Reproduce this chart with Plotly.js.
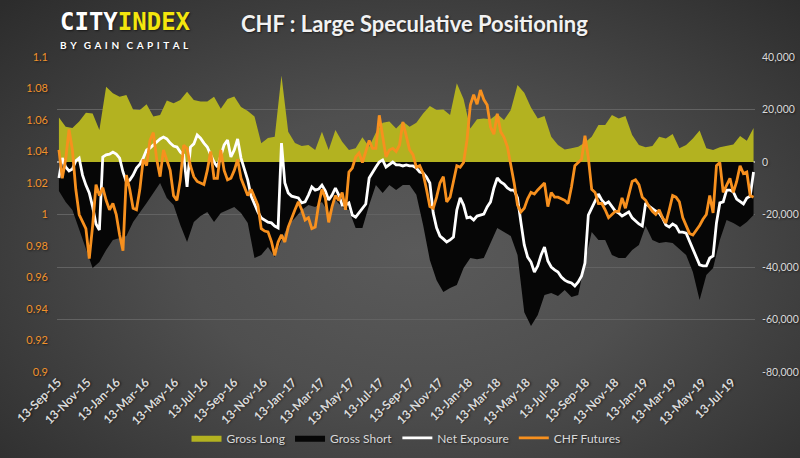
<!DOCTYPE html>
<html>
<head>
<meta charset="utf-8">
<script src="https://cdn.plot.ly/plotly-3.0.1.min.js"></script>
<style>
  html, body { margin: 0; padding: 0; background: #2a2a2a; }
  #chart {
    width: 800px; height: 458px;
    background: radial-gradient(ellipse 72% 78% at 52% 55%, #5a5a5a 0%, #4f4f4f 40%, #2c2c2c 100%);
  }
  .main-svg text { text-shadow: 1px 1px 2px rgba(0,0,0,0.55); }
</style>
</head>
<body>
<div id="chart"></div>
<script>
// Weekly report dates (Tuesdays), Sep 2015 - Aug 2019
const datesWeekly = [
 '2015-09-15','2015-09-22','2015-09-29','2015-10-06','2015-10-13','2015-10-20','2015-10-27','2015-11-03',
 '2015-11-10','2015-11-17','2015-11-24','2015-12-01','2015-12-08','2015-12-15','2015-12-22','2015-12-29',
 '2016-01-05','2016-01-12','2016-01-19','2016-01-26','2016-02-02','2016-02-09','2016-02-16','2016-02-23',
 '2016-03-01','2016-03-08','2016-03-15','2016-03-22','2016-03-29','2016-04-05','2016-04-12','2016-04-19',
 '2016-04-26','2016-05-03','2016-05-10','2016-05-17','2016-05-24','2016-05-31','2016-06-07','2016-06-14',
 '2016-06-21','2016-06-28','2016-07-05','2016-07-12','2016-07-19','2016-07-26','2016-08-02','2016-08-09',
 '2016-08-16','2016-08-23','2016-08-30','2016-09-06','2016-09-13','2016-09-20','2016-09-27','2016-10-04',
 '2016-10-11','2016-10-18','2016-10-25','2016-11-01','2016-11-08','2016-11-15','2016-11-22','2016-11-29',
 '2016-12-06','2016-12-13','2016-12-20','2016-12-27',
 '2017-01-03','2017-01-10','2017-01-17','2017-01-24','2017-01-31','2017-02-07','2017-02-14','2017-02-21',
 '2017-02-28','2017-03-07','2017-03-14','2017-03-21','2017-03-28','2017-04-04','2017-04-11','2017-04-18',
 '2017-04-25','2017-05-02','2017-05-09','2017-05-16','2017-05-23','2017-05-30','2017-06-06','2017-06-13',
 '2017-06-20','2017-06-27','2017-07-04','2017-07-11','2017-07-18','2017-07-25','2017-08-01','2017-08-08',
 '2017-08-15','2017-08-22','2017-08-29','2017-09-05','2017-09-12','2017-09-19','2017-09-26','2017-10-03',
 '2017-10-10','2017-10-17','2017-10-24','2017-10-31','2017-11-07','2017-11-14','2017-11-21','2017-11-28',
 '2017-12-05','2017-12-12','2017-12-19','2017-12-26',
 '2018-01-02','2018-01-09','2018-01-16','2018-01-23','2018-01-30','2018-02-06','2018-02-13','2018-02-20',
 '2018-02-27','2018-03-06','2018-03-13','2018-03-20','2018-03-27','2018-04-03','2018-04-10','2018-04-17',
 '2018-04-24','2018-05-01','2018-05-08','2018-05-15','2018-05-22','2018-05-29','2018-06-05','2018-06-12',
 '2018-06-19','2018-06-26','2018-07-03','2018-07-10','2018-07-17','2018-07-24','2018-07-31','2018-08-07',
 '2018-08-14','2018-08-21','2018-08-28','2018-09-04','2018-09-11','2018-09-18','2018-09-25','2018-10-02',
 '2018-10-09','2018-10-16','2018-10-23','2018-10-30','2018-11-06','2018-11-13','2018-11-20','2018-11-27',
 '2018-12-04','2018-12-11','2018-12-18','2018-12-25',
 '2019-01-01','2019-01-08','2019-01-15','2019-01-22','2019-01-29','2019-02-05','2019-02-12','2019-02-19',
 '2019-02-26','2019-03-05','2019-03-12','2019-03-19','2019-03-26','2019-04-02','2019-04-09','2019-04-16',
 '2019-04-23','2019-04-30','2019-05-07','2019-05-14','2019-05-21','2019-05-28','2019-06-04','2019-06-11',
 '2019-06-18','2019-06-25','2019-07-02','2019-07-09','2019-07-16','2019-07-23','2019-07-30','2019-08-06',
 '2019-08-13','2019-08-20','2019-08-27'
];

// Every second report date, used for the gross position areas
const datesBiweekly = [
 '2015-09-15','2015-09-29','2015-10-13','2015-10-27','2015-11-10','2015-11-24','2015-12-08','2015-12-22',
 '2016-01-05','2016-01-19','2016-02-02','2016-02-16','2016-03-01','2016-03-15','2016-03-29','2016-04-12',
 '2016-04-26','2016-05-10','2016-05-24','2016-06-07','2016-06-21','2016-07-05','2016-07-19','2016-08-02',
 '2016-08-16','2016-08-30','2016-09-13','2016-09-27','2016-10-11','2016-10-25','2016-11-08','2016-11-22',
 '2016-12-06','2016-12-20','2017-01-03','2017-01-17','2017-01-31','2017-02-14','2017-02-28','2017-03-14',
 '2017-03-28','2017-04-11','2017-04-25','2017-05-09','2017-05-23','2017-06-06','2017-06-20','2017-07-04',
 '2017-07-18','2017-08-01','2017-08-15','2017-08-29','2017-09-12','2017-09-26','2017-10-10','2017-10-24',
 '2017-11-07','2017-11-21','2017-12-05','2017-12-19','2018-01-02','2018-01-16','2018-01-30','2018-02-13',
 '2018-02-27','2018-03-13','2018-03-27','2018-04-10','2018-04-24','2018-05-08','2018-05-22','2018-06-05',
 '2018-06-19','2018-07-03','2018-07-17','2018-07-31','2018-08-14','2018-08-28','2018-09-11','2018-09-25',
 '2018-10-09','2018-10-23','2018-11-06','2018-11-20','2018-12-04','2018-12-18','2019-01-01','2019-01-15',
 '2019-01-29','2019-02-12','2019-02-26','2019-03-12','2019-03-26','2019-04-09','2019-04-23','2019-05-07',
 '2019-05-21','2019-06-04','2019-06-18','2019-07-02','2019-07-16','2019-07-30','2019-08-13','2019-08-27'
];

const grossLong = [
 17000,13400,13000,15400,18800,18500,12200,28700,
 26200,24900,25500,20000,19800,22000,17300,17900,
 23400,22400,23600,26800,23600,23000,23000,24900,
 20300,24000,25000,21000,19400,17300,7100,9100,
 9600,33000,11500,7200,6100,6500,4600,11500,
 4600,12200,7700,4600,5200,9400,5800,11200,
 15000,15400,12800,15400,13400,15000,18500,21300,
 19800,20000,17900,30000,24000,12800,16300,16600,
 16300,18300,16000,19800,29300,26400,20800,16600,
 17500,9600,6500,4800,5200,5800,7400,9600,
 14100,14100,17900,16600,17500,10300,6500,5600,
 6100,9600,9000,10700,5200,6500,9000,12000,
 5200,4600,5600,6100,6700,9900,8100,13000
];

const grossShort = [
 -11000,-15200,-18300,-25900,-33500,-40400,-38100,-33500,
 -29700,-29000,-28200,-22900,-19400,-15600,-11800,-8000,
 -13700,-16400,-24000,-30500,-22900,-20600,-19000,-22900,
 -19400,-18300,-17100,-19400,-23200,-36600,-35400,-32400,
 -36200,-29700,-24000,-21300,-18300,-16400,-17100,-15200,
 -19400,-14500,-17100,-18300,-25100,-25100,-16400,-8800,
 -11800,-8800,-10700,-8800,-8800,-12500,-24000,-37300,
 -45000,-49500,-48000,-46900,-40400,-36600,-37000,-36600,
 -30500,-25100,-26700,-28200,-35400,-57200,-62500,-58300,
 -50700,-49900,-51000,-48800,-51400,-50700,-38100,-26700,
 -29700,-29700,-35400,-36600,-36600,-33500,-31600,-24400,
 -29700,-30900,-30500,-30900,-33100,-35400,-41900,-52600,
 -43000,-40400,-29700,-22100,-23200,-24800,-22900,-20200
];

const netExposure = [
 -6100,1500,-1900,-3400,-2700,400,1500,-5000,-8800,-11800,
 -17100,-23600,-25900,1900,2700,3000,3800,3000,1500,-3800,
 -7600,-6900,-5000,-2300,-800,1500,4600,5300,6500,7600,
 8800,9500,8800,7200,6100,5700,3800,2700,-9500,5700,
 6900,10300,9100,7200,5700,2700,0,-1900,1900,6500,
 8400,1900,4600,8800,1500,-3000,-6900,-13000,-16400,-19000,
 -21300,-22100,-22900,-23200,-24400,-25100,7200,-8000,-11800,-13000,
 -13300,-13700,-15600,-15200,-12600,-9500,-10700,-10300,-8800,-11000,
 -14500,-12600,-9900,-12600,-16400,-16400,-15600,-20200,-21000,-19400,
 -17900,-16000,-6100,-3800,-1900,0,800,-1900,-1100,0,
 -1100,-1100,-1500,-1100,-1500,-1500,-2300,-3800,-4200,-5700,
 -8000,-19400,-25100,-28200,-29300,-30500,-29700,-28600,-18300,-13700,
 -16400,-21300,-21000,-22100,-20600,-20200,-19800,-17100,-15200,-9900,
 -6100,-7600,-8400,-9900,-10700,-10700,-13700,-22900,-31600,-36200,
 -38100,-41900,-39600,-35400,-32400,-37700,-40000,-41100,-41900,-43800,
 -45000,-45700,-46100,-47200,-45700,-43400,-38500,-20200,-17500,-15200,
 -12200,-14500,-16000,-15200,-17100,-18700,-19400,-20600,-19800,-19000,
 -21300,-22500,-23600,-24400,-15600,-16800,-17900,-18700,-19400,-21300,
 -24000,-24800,-23600,-24400,-26700,-26700,-27100,-30100,-33500,-36600,
 -39200,-39600,-39600,-36600,-35800,-23200,-15600,-15200,-10700,-10700,
 -11400,-14100,-15200,-16000,-13700,-13000,-3800
];

const chfFutures = [
 1.041,1.023,1.035,1.054,1.041,1.016,1.000,0.995,0.991,0.972,
 0.993,1.019,1.012,1.017,1.009,1.003,1.007,1.000,0.987,0.977,
 1.025,1.016,1.004,1.003,1.016,1.035,1.031,1.047,1.052,1.035,
 1.024,1.041,1.035,1.028,1.012,1.009,1.022,1.044,1.042,1.031,
 1.024,1.021,1.020,1.019,1.028,1.040,1.023,1.023,1.041,1.028,
 1.022,1.023,1.028,1.035,1.023,1.0175,1.012,1.016,1.011,1.006,
 0.991,0.9895,0.989,0.983,0.974,0.9825,0.987,0.9825,0.992,0.998,
 1.003,1.008,1.003,0.9965,0.998,0.991,0.992,1.006,1.016,1.0105,
 0.995,1.005,1.012,1.009,1.014,1.003,1.027,1.0295,1.0365,1.039,
 1.033,1.040,1.047,1.042,1.042,1.063,1.0505,1.0365,1.041,1.042,
 1.040,1.044,1.0587,1.050,1.041,1.038,1.030,1.031,1.026,1.016,
 1.005,1.004,1.011,1.020,1.024,1.008,1.011,1.021,1.031,1.030,
 1.033,1.047,1.0695,1.076,1.070,1.079,1.073,1.0695,1.0555,1.051,
 1.064,1.0525,1.049,1.043,1.032,1.020,1.006,1.0016,1.004,1.010,
 1.014,1.013,1.0156,1.018,1.020,1.005,1.014,1.011,1.011,1.010,
 1.009,1.007,1.0175,1.031,1.033,1.035,1.050,1.036,1.016,1.014,
 1.007,1.007,1.003,0.998,1.000,1.002,1.002,1.0105,1.004,1.012,
 1.021,1.022,1.019,1.011,1.009,1.005,1.002,1.000,1.003,0.998,
 0.9946,1.003,1.012,1.011,1.008,0.998,0.993,0.988,0.987,0.990,
 0.993,0.997,1.000,1.012,1.001,1.031,1.033,1.014,1.019,1.023,
 1.014,1.021,1.031,1.026,1.027,1.012,1.011
];

const xTicks = [
 '2015-09-13','2015-11-13','2016-01-13','2016-03-13','2016-05-13','2016-07-13',
 '2016-09-13','2016-11-13','2017-01-13','2017-03-13','2017-05-13','2017-07-13',
 '2017-09-13','2017-11-13','2018-01-13','2018-03-13','2018-05-13','2018-07-13',
 '2018-09-13','2018-11-13','2019-01-13','2019-03-13','2019-05-13','2019-07-13'
];

const rightTickVals = [40000, 20000, 0, -20000, -40000, -60000, -80000];
const rightTickText = ['40,000', '20,000', '0', '-20,000', '-40,000', '-60,000', '-80,000'];

const seriesNames = ['Gross Long','Gross Short','Net Exposure','CHF Futures'];
const titleText = 'CHF : Large Speculative Positioning';

const traces = [
  {x: datesBiweekly, y: grossLong, name: seriesNames[0], type: 'scatter', mode: 'lines',
   fill: 'tozeroy', fillcolor: '#b3b220', line: {width: 0, color: '#b3b220'}, yaxis: 'y'},
  {x: datesBiweekly, y: grossShort, name: seriesNames[1], type: 'scatter', mode: 'lines',
   fill: 'tozeroy', fillcolor: '#060606', line: {width: 0, color: '#060606'}, yaxis: 'y'},
  {x: datesWeekly, y: netExposure, name: seriesNames[2], type: 'scatter', mode: 'lines',
   line: {width: 2.8, color: '#ffffff'}, yaxis: 'y'},
  {x: datesWeekly, y: chfFutures, name: seriesNames[3], type: 'scatter', mode: 'lines',
   line: {width: 2.8, color: '#f7901e'}, yaxis: 'y2'}
];

const greyTxt = '#d9d9d9';
const sp = '\u00a0\u2009';   // letter gap in the sub-logo
const wg = '\u00a0\u00a0\u00a0'; // word gap
const subLogo = ['B','Y'].join(sp) + wg + ['G','A','I','N'].join(sp) + wg + ['C','A','P','I','T','A','L'].join(sp);

// plot area: top 57px, bottom 372px (height 315px)
const plotBottom = 372, plotHeight = 315;

const layout = {
  width: 800, height: 458,
  paper_bgcolor: 'rgba(0,0,0,0)', plot_bgcolor: 'rgba(0,0,0,0)',
  margin: {l: 57, r: 45, t: 57, b: 86, autoexpand: false},
  font: {family: 'Lato, "Open Sans", sans-serif', color: greyTxt},
  title: {
    text: '<b>' + titleText + '</b>',
    x: 0.518, xanchor: 'center', y: 0.947, yanchor: 'middle',
    font: {family: 'Lato, sans-serif', size: 22, color: '#f2f2f2'}
  },
  showlegend: true,
  legend: {
    orientation: 'h', xref: 'paper', x: 0.5, xanchor: 'center',
    yref: 'container', y: 0.044, yanchor: 'middle',
    font: {family: 'Lato, sans-serif', size: 12, color: greyTxt},
    bgcolor: 'rgba(0,0,0,0)', traceorder: 'normal'
  },
  xaxis: {
    type: 'date', range: ['2015-09-11', '2019-08-30'], automargin: false,
    tickvals: xTicks, tickformat: '%d-%b-%y', tickangle: -45,
    tickfont: {family: 'Lato, sans-serif', size: 12, color: greyTxt, weight: 'bold'},
    showgrid: false, zeroline: false, showline: false, ticks: ''
  },
  yaxis: {
    side: 'right', range: [-80000, 40000], automargin: false,
    tickvals: rightTickVals, ticktext: rightTickText,
    tickfont: {family: 'Lato, sans-serif', size: 10.5, color: greyTxt},
    showgrid: true, gridcolor: '#626262', gridwidth: 1,
    zeroline: true, zerolinecolor: '#a3a3a3', zerolinewidth: 1.5,
    showline: false, ticks: '', ticklabelstandoff: 6
  },
  yaxis2: {
    side: 'left', overlaying: 'y', range: [0.9, 1.1], dtick: 0.02, automargin: false,
    tickfont: {family: 'Lato, sans-serif', size: 11, color: '#f0922c'},
    showgrid: false, zeroline: false, showline: false, ticks: '', ticklabelstandoff: 8
  },
  annotations: [
    {xref: 'paper', yref: 'paper', x: 0.003, y: (plotBottom - 37) / plotHeight,
     xanchor: 'left', yanchor: 'bottom', showarrow: false, borderpad: 0,
     text: '<b><span style="color:#ffffff">CITY</span><span style="color:#f4e60e">INDEX</span></b>',
     font: {family: '"DejaVu Sans Mono", monospace', size: 24}},
    {xref: 'paper', yref: 'paper', x: 0.003, y: (plotBottom - 38) / plotHeight,
     xanchor: 'left', yanchor: 'top', showarrow: false, borderpad: 0,
     text: '<b>' + subLogo + '</b>',
     font: {family: 'Lato, sans-serif', size: 10, color: '#ffffff'}}
  ]
};

Plotly.newPlot('chart', traces, layout, {staticPlot: true, displayModeBar: false});
</script>
</body>
</html>
